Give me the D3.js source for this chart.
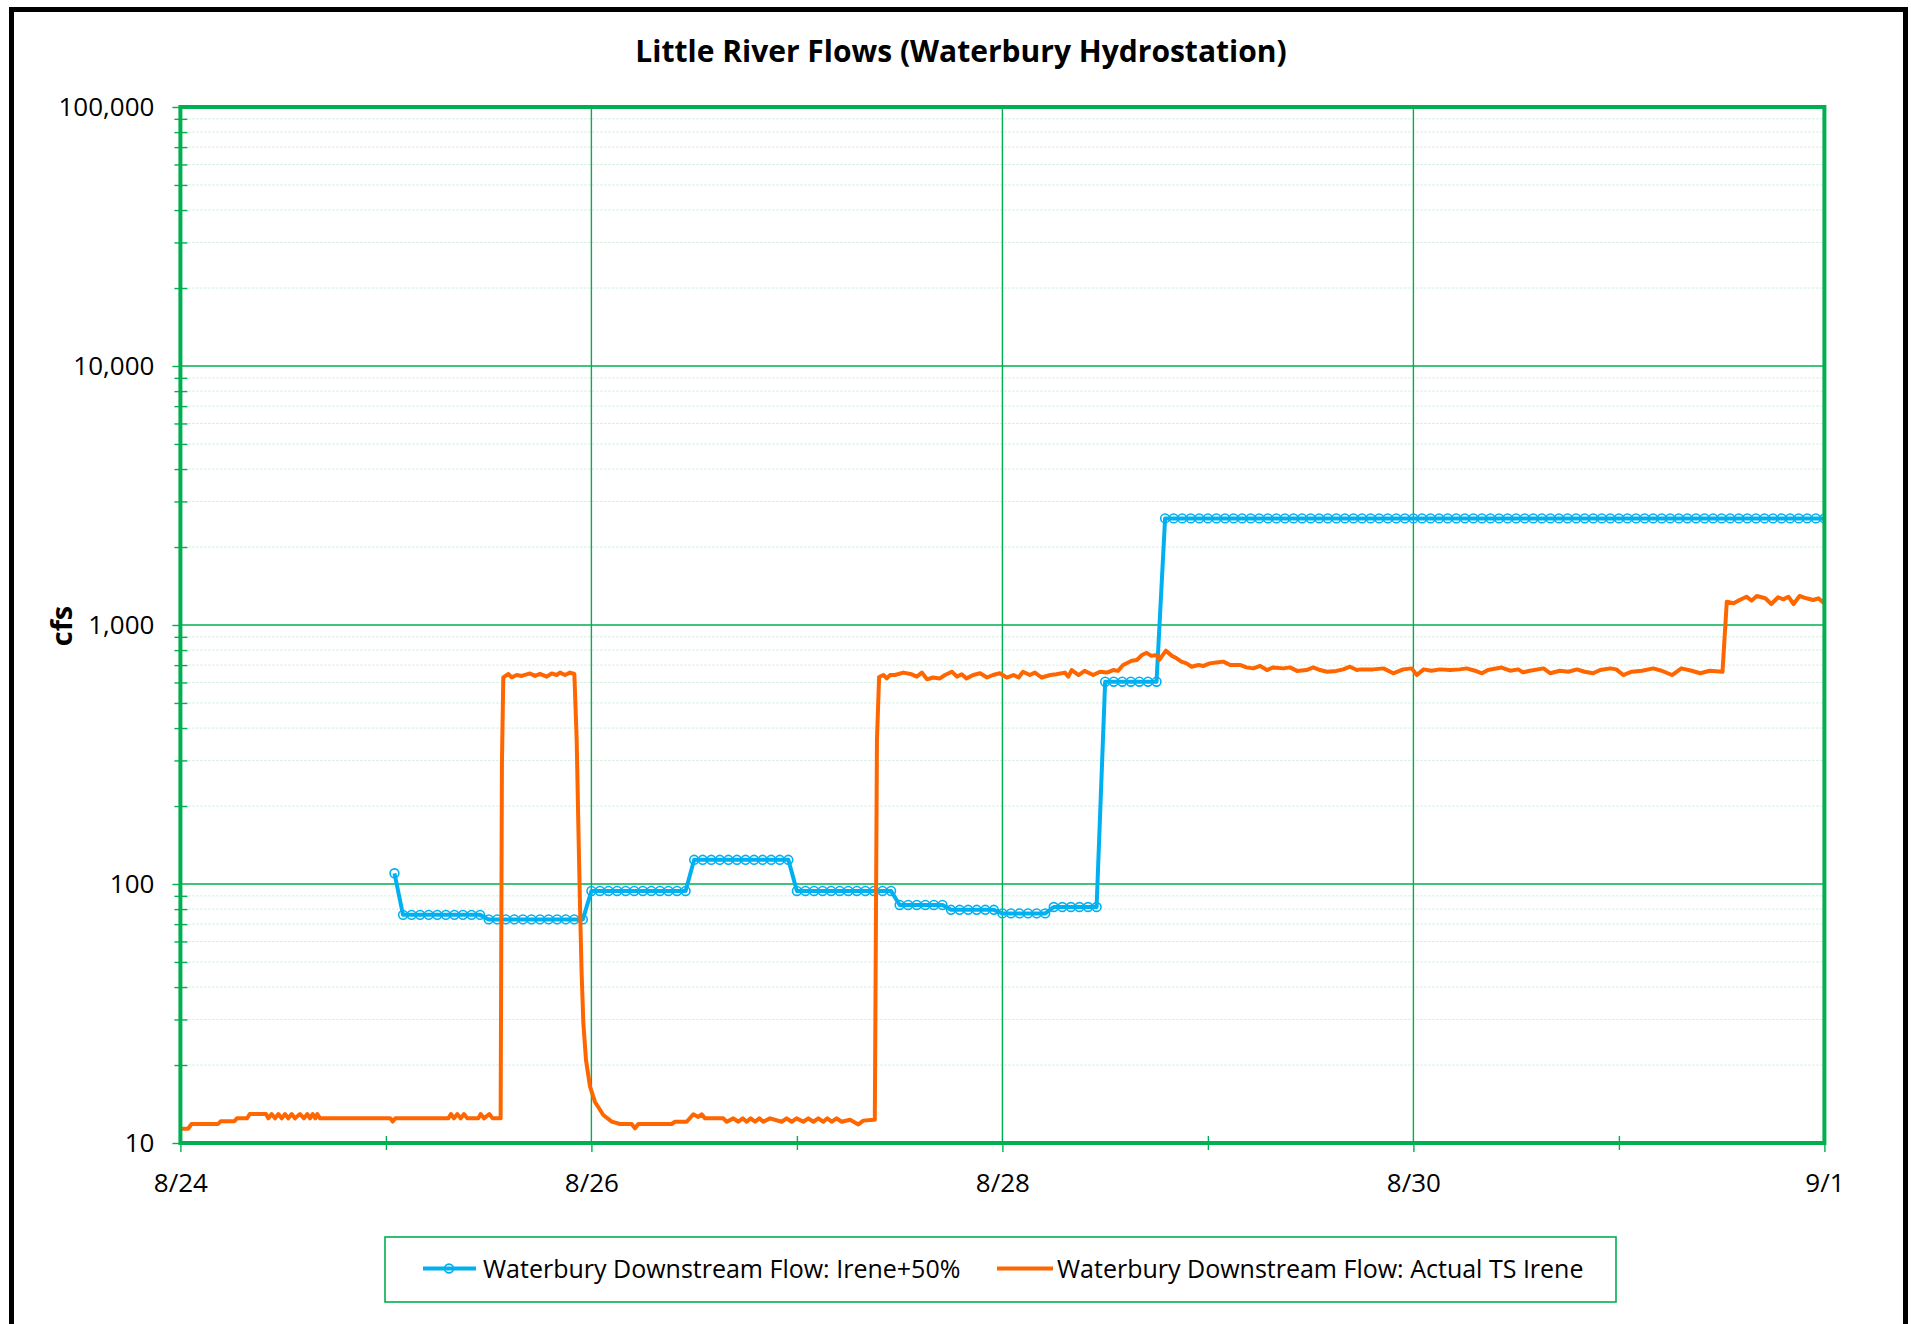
<!DOCTYPE html>
<html>
<head>
<meta charset="utf-8">
<script src="https://d3js.org/d3.v7.min.js"></script>
<style>
  body { margin: 0; background: #fff; }
  svg { display: block; font-family: "Open Sans", "Noto Sans", sans-serif; }
</style>
</head>
<body>
<svg id="chart" width="1911" height="1324"></svg>
<script>
// hours are counted from 8/24 00:00
var xTickHours = [0, 48, 96, 144, 192];
var xTickLabels = ["8/24", "8/26", "8/28", "8/30", "9/1"];
var xMinorHours = [24, 72, 120, 168];
var yTickValues = [10, 100, 1000, 10000, 100000];
var seriesNames = ["Waterbury Downstream Flow: Irene+50%", "Waterbury Downstream Flow: Actual TS Irene"];

// Irene+50% : hourly values, 8/25 01:00 (hour 25) through 9/1 00:00 (hour 192)
var blueHours = d3.range(25, 193);
var blueFlow = [110,
  76, 76, 76, 76, 76, 76, 76, 76, 76, 76,
  73, 73, 73, 73, 73, 73, 73, 73, 73, 73, 73, 73,
  94, 94, 94, 94, 94, 94, 94, 94, 94, 94, 94, 94,
  124, 124, 124, 124, 124, 124, 124, 124, 124, 124, 124, 124,
  94, 94, 94, 94, 94, 94, 94, 94, 94, 94, 94, 94,
  83, 83, 83, 83, 83, 83,
  79.5, 79.5, 79.5, 79.5, 79.5, 79.5,
  77, 77, 77, 77, 77, 77,
  81.5, 81.5, 81.5, 81.5, 81.5, 81.5,
  604, 604, 604, 604, 604, 604, 604,
  2580, 2580, 2580, 2580, 2580, 2580, 2580, 2580, 2580, 2580, 2580, 2580, 2580,
  2580, 2580, 2580, 2580, 2580, 2580, 2580, 2580, 2580, 2580, 2580, 2580, 2580,
  2580, 2580, 2580, 2580, 2580, 2580, 2580, 2580, 2580, 2580, 2580, 2580, 2580,
  2580, 2580, 2580, 2580, 2580, 2580, 2580, 2580, 2580, 2580, 2580, 2580, 2580,
  2580, 2580, 2580, 2580, 2580, 2580, 2580, 2580, 2580, 2580, 2580, 2580, 2580,
  2580, 2580, 2580, 2580, 2580, 2580, 2580, 2580, 2580, 2580, 2580, 2580, 2580];

// Actual TS Irene : readings (hour, cfs)
var orangeHours = [0, 0.9, 1.3, 4.4, 4.7, 6.3, 6.6, 7.8, 8.1, 10.0,
  10.27, 10.66, 11.05, 11.44, 11.83, 12.22, 12.6, 13.0, 13.38, 13.97,
  14.43, 14.82, 15.14, 15.45, 15.76, 15.99, 16.3, 24.5, 24.8, 25.1,
  31.3, 31.6, 31.95, 32.34, 32.73, 33.12, 33.51, 34.79, 35.07, 35.46,
  36.08, 36.47, 37.4, 37.55, 37.71, 38.3, 38.69, 39.27, 39.86, 40.83,
  41.41, 42.0, 42.78, 43.36, 43.94, 44.33, 44.92, 45.5, 46.01, 46.28,
  46.47, 46.67, 46.86, 47.06, 47.37, 47.84, 48.42, 49.39, 50.37, 51.34,
  52.7, 53.09, 53.48, 57.37, 57.76, 59.13, 59.9, 60.48, 60.88, 61.27,
  63.4, 63.8, 64.58, 65.16, 65.67, 66.13, 66.6, 67.11, 67.61, 68.08,
  68.86, 70.22, 70.8, 71.39, 71.97, 72.75, 73.33, 73.92, 74.5, 75.09,
  75.55, 76.06, 76.64, 77.23, 78.2, 79.18, 79.76, 80.93, 81.1, 81.35,
  81.6, 82.1, 82.5, 82.87, 83.46, 84.43, 85.4, 86.0, 86.6, 87.2,
  87.9, 88.7, 89.3, 90.1, 90.7, 91.25, 91.8, 92.6, 93.4, 94.2,
  94.9, 95.7, 96.5, 97.3, 97.9, 98.4, 99.2, 99.8, 100.6, 101.6,
  102.3, 103.3, 103.7, 104.1, 104.9, 105.6, 106.6, 107.4, 108.2, 108.95,
  109.5, 110.1, 111.1, 111.7, 112.3, 112.85, 113.4, 114.0, 114.3, 115.1,
  115.8, 116.35, 116.9, 117.5, 118.1, 118.9, 119.5, 120.2, 121.0, 121.8,
  122.6, 123.75, 124.5, 125.3, 126.1, 126.9, 127.6, 128.8, 129.6, 130.4,
  131.5, 132.3, 133.1, 133.9, 135.0, 135.8, 136.6, 137.4, 137.8, 139.3,
  140.5, 141.65, 142.8, 143.8, 144.4, 145.2, 146.1, 147.1, 148.3, 149.4,
  150.2, 151.2, 152.0, 152.7, 154.3, 155.3, 156.25, 156.8, 157.6, 159.2,
  160.0, 161.1, 162.1, 163.1, 164.0, 165.0, 165.8, 167.0, 167.7, 168.5,
  169.5, 170.7, 172.0, 173.0, 174.2, 175.3, 176.5, 177.5, 178.6, 180.1,
  180.6, 181.4, 182.1, 182.9, 183.5, 184.1, 185.1, 185.8, 186.6, 187.2,
  187.8, 188.4, 189.1, 189.9, 190.7, 191.3, 191.9, 192];
var orangeFlow = [11.35, 11.35, 11.84, 11.84, 12.13, 12.13, 12.45, 12.45, 12.94, 12.94,
  12.45, 12.94, 12.45, 12.94, 12.45, 12.94, 12.45, 12.94, 12.45, 12.94,
  12.45, 12.94, 12.45, 12.94, 12.45, 12.94, 12.45, 12.45, 12.1, 12.45,
  12.45, 12.94, 12.45, 12.94, 12.45, 12.94, 12.45, 12.45, 12.94, 12.45,
  12.94, 12.45, 12.45, 290, 628, 647, 628, 641, 636, 650,
  636, 647, 632, 650, 641, 655, 641, 655, 647, 360,
  172, 82, 45, 29, 20.9, 16.5, 14.4, 12.83, 12.09, 11.84,
  11.84, 11.4, 11.84, 11.84, 12.08, 12.08, 12.9, 12.6, 12.9, 12.45,
  12.45, 12.08, 12.45, 12.08, 12.45, 12.08, 12.45, 12.08, 12.45, 12.08,
  12.45, 12.08, 12.45, 12.08, 12.45, 12.08, 12.45, 12.08, 12.45, 12.08,
  12.45, 12.08, 12.45, 12.08, 12.3, 11.8, 12.2, 12.3, 12.3, 360,
  630, 641, 622, 641, 641, 655, 645, 632, 655, 617,
  627, 622, 641, 660, 632, 645, 622, 641, 651, 627,
  641, 651, 627, 641, 627, 660, 641, 655, 627, 641,
  645, 655, 632, 670, 641, 665, 641, 660, 655, 670,
  665, 701, 728, 733, 766, 781, 760, 766, 733, 796,
  760, 744, 722, 711, 690, 701, 695, 711, 716, 722,
  701, 701, 686, 680, 695, 670, 686, 680, 686, 665,
  670, 686, 670, 660, 665, 674, 690, 670, 674, 674,
  680, 651, 674, 680, 641, 674, 666, 674, 670, 674,
  680, 666, 651, 670, 685, 666, 674, 656, 666, 680,
  651, 666, 660, 674, 660, 651, 670, 680, 674, 641,
  660, 666, 680, 666, 641, 680, 666, 651, 666, 660,
  1230, 1213, 1249, 1286, 1242, 1294, 1268, 1205, 1280, 1256,
  1286, 1205, 1294, 1268, 1249, 1268, 1220, 1220];

var GREEN = "#00B050", BLUE = "#00B0F0", ORANGE = "#FF6600";
var plotLeft = 180.4, plotRight = 1824.4, plotTop = 107, plotBottom = 1143;

var svg = d3.select("#chart");

// outer chart frame (runs off the bottom of the picture)
svg.append("rect")
  .attr("x", 11.5).attr("y", 9.5).attr("width", 1894).attr("height", 1340)
  .attr("fill", "#fff").attr("stroke", "#000").attr("stroke-width", 5);

var x = d3.scaleLinear().domain([0, 192]).range([plotLeft, plotRight]);
var y = d3.scaleLog().domain([10, 100000]).range([plotBottom, plotTop]);

var yMinor = [];
yTickValues.slice(0, -1).forEach(function(d) {
  for (var k = 2; k < 10; k++) yMinor.push(d * k);
});

// minor gridlines
svg.append("g").selectAll("line").data(yMinor).join("line")
  .attr("x1", plotLeft).attr("x2", plotRight)
  .attr("y1", d => y(d)).attr("y2", d => y(d))
  .attr("stroke", "#c6ebd6").attr("stroke-width", 1).attr("stroke-dasharray", "2,2");

// major gridlines
svg.append("g").selectAll("line").data(yTickValues.slice(1, -1)).join("line")
  .attr("x1", plotLeft).attr("x2", plotRight)
  .attr("y1", d => y(d)).attr("y2", d => y(d))
  .attr("stroke", GREEN).attr("stroke-width", 1.4);
svg.append("g").selectAll("line").data(xTickHours.slice(1, -1)).join("line")
  .attr("x1", d => x(d)).attr("x2", d => x(d))
  .attr("y1", plotTop).attr("y2", plotBottom)
  .attr("stroke", GREEN).attr("stroke-width", 1.4);

// axes
function styleAxis(g) {
  g.select(".domain").remove();
  g.selectAll(".tick line").attr("stroke", GREEN).attr("stroke-width", 1.4);
  g.selectAll(".tick text").attr("fill", "#000").attr("font-size", 26)
    .attr("font-family", "'Open Sans', 'Noto Sans', sans-serif");
}
svg.append("g").attr("transform", "translate(" + plotLeft + ",0)")
  .call(d3.axisLeft(y).tickValues(yTickValues).tickFormat(d3.format(",")).tickSize(8).tickPadding(18))
  .call(styleAxis);
svg.append("g").attr("transform", "translate(" + (plotLeft + 7) + ",0)")
  .call(d3.axisLeft(y).tickValues(yMinor).tickFormat("").tickSize(13))
  .call(styleAxis);
svg.append("g").attr("transform", "translate(0," + plotBottom + ")")
  .call(d3.axisBottom(x).tickValues(xTickHours).tickFormat((d, i) => xTickLabels[i]).tickSize(9).tickPadding(22))
  .call(styleAxis);
svg.append("g").attr("transform", "translate(0," + (plotBottom - 7) + ")")
  .call(d3.axisBottom(x).tickValues(xMinorHours).tickFormat("").tickSize(14))
  .call(styleAxis);

// series
svg.append("clipPath").attr("id", "plotclip").append("rect")
  .attr("x", plotLeft).attr("y", plotTop).attr("width", plotRight - plotLeft).attr("height", plotBottom - plotTop);
var plot = svg.append("g").attr("clip-path", "url(#plotclip)");

var blueData = blueHours.map((h, i) => [h, blueFlow[i]]);
var orangeData = orangeHours.map((h, i) => [h, orangeFlow[i]]);
var line = d3.line().x(d => x(d[0])).y(d => y(d[1]));

plot.append("path").datum(blueData).attr("d", line)
  .attr("fill", "none").attr("stroke", BLUE).attr("stroke-width", 4).attr("stroke-linejoin", "round");
plot.append("g").selectAll("circle").data(blueData).join("circle")
  .attr("cx", d => x(d[0])).attr("cy", d => y(d[1])).attr("r", 4.4)
  .attr("fill", "none").attr("stroke", BLUE).attr("stroke-width", 1.6);
plot.append("path").datum(orangeData).attr("d", line)
  .attr("fill", "none").attr("stroke", ORANGE).attr("stroke-width", 4).attr("stroke-linejoin", "round");

// plot frame
svg.append("rect").attr("x", plotLeft).attr("y", plotTop)
  .attr("width", plotRight - plotLeft).attr("height", plotBottom - plotTop)
  .attr("fill", "none").attr("stroke", GREEN).attr("stroke-width", 4);

// title and axis label
svg.append("text").attr("x", 961).attr("y", 62).attr("text-anchor", "middle")
  .attr("font-size", 30).attr("font-weight", "bold").text("Little River Flows (Waterbury Hydrostation)");
svg.append("text").attr("transform", "translate(72,626) rotate(-90)").attr("text-anchor", "middle")
  .attr("font-size", 29).attr("font-weight", "bold").text("cfs");

// legend
var lg = svg.append("g");
lg.append("rect").attr("x", 385).attr("y", 1237).attr("width", 1231).attr("height", 65)
  .attr("fill", "#fff").attr("stroke", GREEN).attr("stroke-width", 1.6);
lg.append("line").attr("x1", 423).attr("x2", 476).attr("y1", 1268.5).attr("y2", 1268.5)
  .attr("stroke", BLUE).attr("stroke-width", 4);
lg.append("circle").attr("cx", 449).attr("cy", 1268.5).attr("r", 4.4)
  .attr("fill", "none").attr("stroke", BLUE).attr("stroke-width", 1.6);
lg.append("text").attr("x", 483).attr("y", 1278).attr("font-size", 25).text(seriesNames[0]);
lg.append("line").attr("x1", 997).attr("x2", 1053).attr("y1", 1268.5).attr("y2", 1268.5)
  .attr("stroke", ORANGE).attr("stroke-width", 4);
lg.append("text").attr("x", 1057).attr("y", 1278).attr("font-size", 25).text(seriesNames[1]);
</script>
</body>
</html>
